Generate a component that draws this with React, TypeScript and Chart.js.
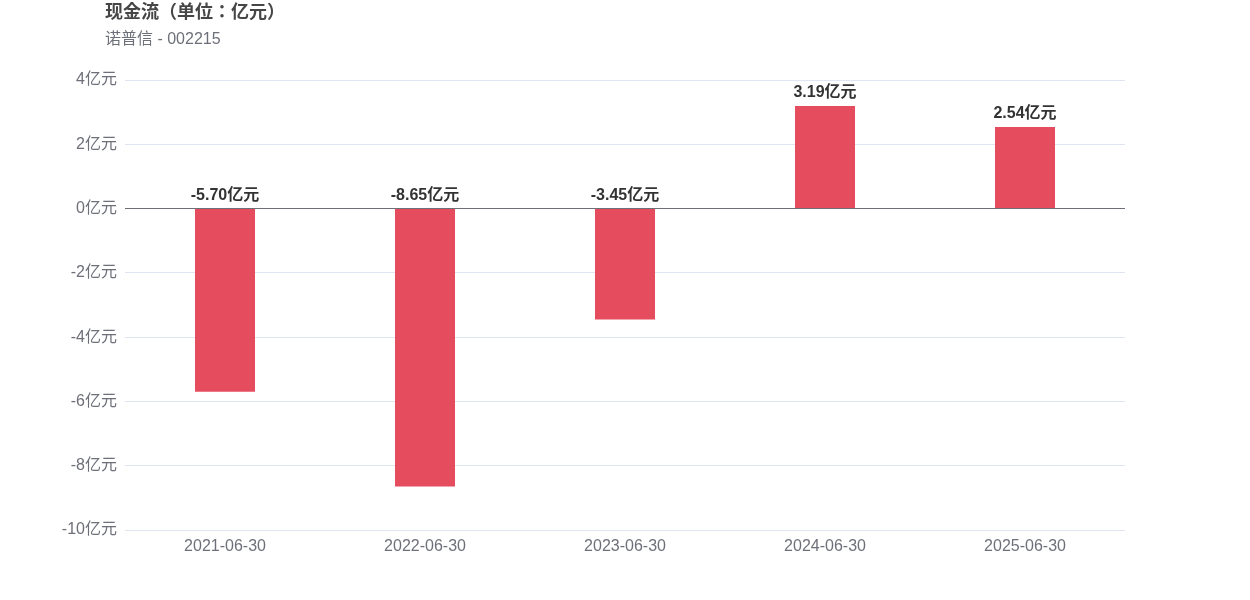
import React, { useEffect, useRef } from "react";
import { Chart, registerables } from "chart.js";

Chart.register(...registerables);

const categories = ["2021-06-30", "2022-06-30", "2023-06-30", "2024-06-30", "2025-06-30"];
const cashFlow = [-5.7, -8.65, -3.45, 3.19, 2.54];
const yTicks = [-10, -8, -6, -4, -2, 0, 2, 4];
const titleText = "现金流（单位：亿元）";
const subtitleText = "诺普信 - 002215";

const FONT = "'Liberation Sans', Arial, 'Noto Sans CJK SC', sans-serif";
const TITLE_FONT = "'Liberation Sans', Arial, 'Noto Sans CJK JP', sans-serif";

const textPlugin = {
  id: "texts",
  afterDraw(chart: any) {
    const ctx = chart.ctx;
    ctx.save();
    ctx.textAlign = "left";
    ctx.textBaseline = "middle";
    ctx.fillStyle = "#464646";
    ctx.font = `bold 18px ${TITLE_FONT}`;
    ctx.fillText(titleText, 105, 13);
    ctx.fillStyle = "#6e7079";
    ctx.font = `16px ${FONT}`;
    ctx.fillText(subtitleText, 105, 40);

    const meta = chart.getDatasetMeta(0);
    const y0 = chart.scales.y.getPixelForValue(0);
    ctx.fillStyle = "#333333";
    ctx.font = `bold 16px ${FONT}`;
    ctx.textAlign = "center";
    ctx.textBaseline = "bottom";
    meta.data.forEach((bar: any, i: number) => {
      const v = cashFlow[i];
      const top = Math.min(bar.y, y0);
      ctx.fillText(v.toFixed(2) + "亿元", bar.x, top - 5);
    });
    ctx.restore();
  },
};

export default function App() {
  const ref = useRef<HTMLCanvasElement>(null);
  useEffect(() => {
    if (!ref.current) return;
    const chart = new Chart(ref.current, {
      type: "bar",
      data: {
        labels: categories,
        datasets: [
          {
            data: cashFlow,
            backgroundColor: "#e54c5e",
            categoryPercentage: 0.3,
            barPercentage: 1,
          },
        ],
      },
      options: {
        animation: false,
        responsive: false,
        maintainAspectRatio: false,
        layout: { padding: { left: 0, right: 125, top: 80, bottom: 0 } },
        plugins: { legend: { display: false }, tooltip: { enabled: false }, title: { display: false } },
        scales: {
          x: {
            grid: { display: false },
            border: { display: false },
            ticks: { color: "#6e7079", font: { family: FONT, size: 16 }, padding: -1, maxRotation: 0 },
            afterFit(scale: any) {
              scale.height = 70;
            },
          },
          y: {
            min: yTicks[0],
            max: yTicks[yTicks.length - 1],
            afterBuildTicks(scale: any) {
              scale.ticks = yTicks.map((v) => ({ value: v }));
            },
            grid: {
              color: (c: any) => (c.tick && c.tick.value === 0 ? "#6e7079" : "#e0e6f1"),
              drawTicks: false,
            },
            border: { display: false },
            ticks: {
              color: "#6e7079",
              font: { family: FONT, size: 16 },
              padding: 8,
              callback: (v: any) => v + "亿元",
            },
            afterFit(scale: any) {
              scale.width = 125;
            },
          },
        },
      },
      plugins: [textPlugin],
    });
    return () => chart.destroy();
  }, []);
  return (
    <div style={{ position: "absolute", left: 0, top: 0, width: 1250, height: 600, background: "#fff" }}>
      <canvas ref={ref} width={1250} height={600} style={{ width: 1250, height: 600, display: "block" }} />
    </div>
  );
}
